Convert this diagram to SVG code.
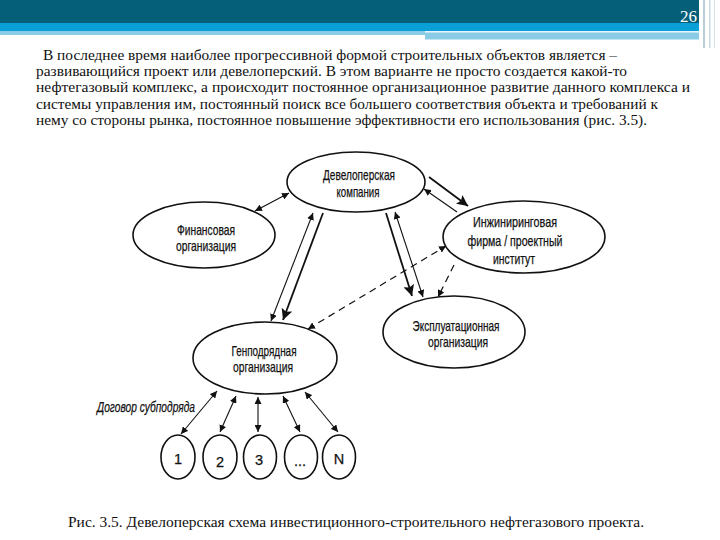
<svg xmlns="http://www.w3.org/2000/svg" width="720" height="540" viewBox="0 0 720 540">
<defs>
<marker id="sa" viewBox="0 0 10 10" refX="10" refY="5" markerWidth="7" markerHeight="7" markerUnits="userSpaceOnUse" orient="auto-start-reverse"><path d="M0,0 L10,5 L0,10 Z" fill="#111"/></marker>
<marker id="ba" viewBox="0 0 10 10" refX="10" refY="5" markerWidth="11" markerHeight="11" markerUnits="userSpaceOnUse" orient="auto-start-reverse"><path d="M0,0 L10,5 L0,10 L2,5 Z" fill="#111"/></marker>
</defs>
<style>
.para{font-family:"Liberation Serif","DejaVu Serif",serif;font-size:14.5px;fill:#111}
.node ellipse{fill:#fff;stroke:#111;stroke-width:1.6}
.lbl{font-family:"Liberation Sans Narrow","Liberation Sans",Arial,sans-serif;font-size:14.5px;fill:#111;text-anchor:middle;stroke:#111;stroke-width:0.25}
.ln{stroke:#111;stroke-width:1.1;fill:none}
.thick{stroke:#111;stroke-width:1.8;fill:none}
.dash{stroke:#111;stroke-width:1.2;fill:none;stroke-dasharray:7,5}
</style>
<rect width="720" height="540" fill="#fff"/>
<g id="header">
<rect x="0" y="0" width="700" height="23" fill="#065f78"/>
<rect x="0" y="23" width="700" height="8" fill="#0a9fd6"/>
<rect x="0" y="31" width="425" height="4" fill="#8acbe6"/>
<rect x="425" y="31" width="275" height="1.5" fill="#e8f6fb"/>
<rect x="425" y="32.5" width="275" height="7" fill="#8acbe6"/>
<rect x="699" y="0" width="3" height="48" fill="#fff"/>
<rect x="703" y="0" width="2" height="48" fill="#b8cdd6"/>
<rect x="709" y="0" width="1.5" height="48" fill="#c9d9e0"/>
<rect x="714" y="0" width="1" height="48" fill="#d4e2e8"/>
<text x="697" y="22" font-family="Liberation Serif,DejaVu Serif,serif" font-size="17" fill="#fff" text-anchor="end">26</text>
</g>
<g id="paragraph">
<text class="para" x="43" y="59.5" textLength="574" lengthAdjust="spacingAndGlyphs">В последнее время наиболее прогрессивной формой строительных объектов является –</text>
<text class="para" x="36" y="76" textLength="591" lengthAdjust="spacingAndGlyphs">развивающийся проект или девелоперский. В этом варианте не просто создается какой-то</text>
<text class="para" x="36" y="92.3" textLength="654" lengthAdjust="spacingAndGlyphs">нефтегазовый комплекс, а происходит постоянное организационное развитие данного комплекса и</text>
<text class="para" x="36" y="108.6" textLength="622" lengthAdjust="spacingAndGlyphs">системы управления им, постоянный поиск все большего соответствия объекта и требований к</text>
<text class="para" x="36" y="125" textLength="611" lengthAdjust="spacingAndGlyphs">нему со стороны рынка, постоянное повышение эффективности его использования (рис. 3.5).</text>
</g>
<g id="connectors">
<line class="ln" x1="255" y1="211" x2="289" y2="193" marker-start="url(#sa)" marker-end="url(#sa)"/>
<line class="thick" x1="429" y1="177" x2="468" y2="206" marker-end="url(#ba)"/>
<line class="ln" x1="424" y1="189" x2="457" y2="212" marker-start="url(#sa)"/>
<line class="ln" x1="313" y1="213" x2="271" y2="321" marker-start="url(#sa)" marker-end="url(#sa)"/>
<line class="thick" x1="323" y1="213" x2="283" y2="320" marker-end="url(#ba)"/>
<line class="thick" x1="386" y1="213" x2="412" y2="296" marker-end="url(#ba)"/>
<line class="ln" x1="395" y1="212" x2="423" y2="297" marker-start="url(#sa)" marker-end="url(#sa)"/>
<line class="dash" x1="308" y1="329" x2="446" y2="246" marker-start="url(#sa)" marker-end="url(#sa)"/>
<line class="dash" x1="454" y1="265" x2="438" y2="297" marker-end="url(#sa)"/>
<line class="ln" x1="217" y1="391" x2="181" y2="434" marker-start="url(#sa)" marker-end="url(#sa)"/>
<line class="ln" x1="236" y1="396" x2="220" y2="432" marker-start="url(#sa)" marker-end="url(#sa)"/>
<line class="ln" x1="258" y1="397" x2="258" y2="432" marker-start="url(#sa)" marker-end="url(#sa)"/>
<line class="ln" x1="283" y1="396" x2="300" y2="432" marker-start="url(#sa)" marker-end="url(#sa)"/>
<line class="ln" x1="305" y1="392" x2="338" y2="432" marker-start="url(#sa)" marker-end="url(#sa)"/>
</g>
<g id="developer" class="node">
<ellipse cx="356" cy="182" rx="69" ry="30"/>
<text class="lbl" x="359" y="180" textLength="72" lengthAdjust="spacingAndGlyphs">Девелоперская</text>
<text class="lbl" x="358" y="197" textLength="43" lengthAdjust="spacingAndGlyphs">компания</text>
</g>
<g id="finance" class="node">
<ellipse cx="204" cy="235" rx="71" ry="33"/>
<text class="lbl" x="206" y="235" textLength="58" lengthAdjust="spacingAndGlyphs">Финансовая</text>
<text class="lbl" x="206" y="251" textLength="60" lengthAdjust="spacingAndGlyphs">организация</text>
</g>
<g id="engineering" class="node">
<ellipse cx="524" cy="237" rx="81" ry="36"/>
<text class="lbl" x="515" y="227" textLength="84" lengthAdjust="spacingAndGlyphs">Инжиниринговая</text>
<text class="lbl" x="515" y="246" textLength="95" lengthAdjust="spacingAndGlyphs">фирма / проектный</text>
<text class="lbl" x="514" y="264" textLength="42" lengthAdjust="spacingAndGlyphs">институт</text>
</g>
<g id="operating" class="node">
<ellipse cx="454" cy="332" rx="71" ry="36"/>
<text class="lbl" x="456" y="331" textLength="87" lengthAdjust="spacingAndGlyphs">Эксплуатационная</text>
<text class="lbl" x="458" y="347" textLength="60" lengthAdjust="spacingAndGlyphs">организация</text>
</g>
<g id="general" class="node">
<ellipse cx="265" cy="358" rx="72" ry="36"/>
<text class="lbl" x="264" y="356" textLength="65" lengthAdjust="spacingAndGlyphs">Генподрядная</text>
<text class="lbl" x="263" y="372" textLength="60" lengthAdjust="spacingAndGlyphs">организация</text>
</g>
<g id="sub1" class="node"><ellipse cx="178" cy="457" rx="17" ry="22"/><text class="lbl" x="178" y="464" font-size="15">1</text></g>
<g id="sub2" class="node"><ellipse cx="220" cy="457" rx="17" ry="22"/><text class="lbl" x="220" y="467" font-size="15">2</text></g>
<g id="sub3" class="node"><ellipse cx="260" cy="457" rx="16.5" ry="22"/><text class="lbl" x="259" y="465" font-size="15">3</text></g>
<g id="subdots" class="node"><ellipse cx="301" cy="457" rx="16.5" ry="22"/><text class="lbl" x="300" y="466" font-size="12">...</text></g>
<g id="subN" class="node"><ellipse cx="339" cy="457" rx="16.5" ry="22"/><text class="lbl" x="339" y="464" font-size="15">N</text></g>
<text id="contract" class="lbl" x="146" y="412" font-style="italic" textLength="98" lengthAdjust="spacingAndGlyphs">Договор субподряда</text>
<text id="caption" class="para" x="68" y="527" textLength="576" lengthAdjust="spacingAndGlyphs">Рис. 3.5. Девелоперская схема инвестиционного-строительного нефтегазового проекта.</text>
</svg>
